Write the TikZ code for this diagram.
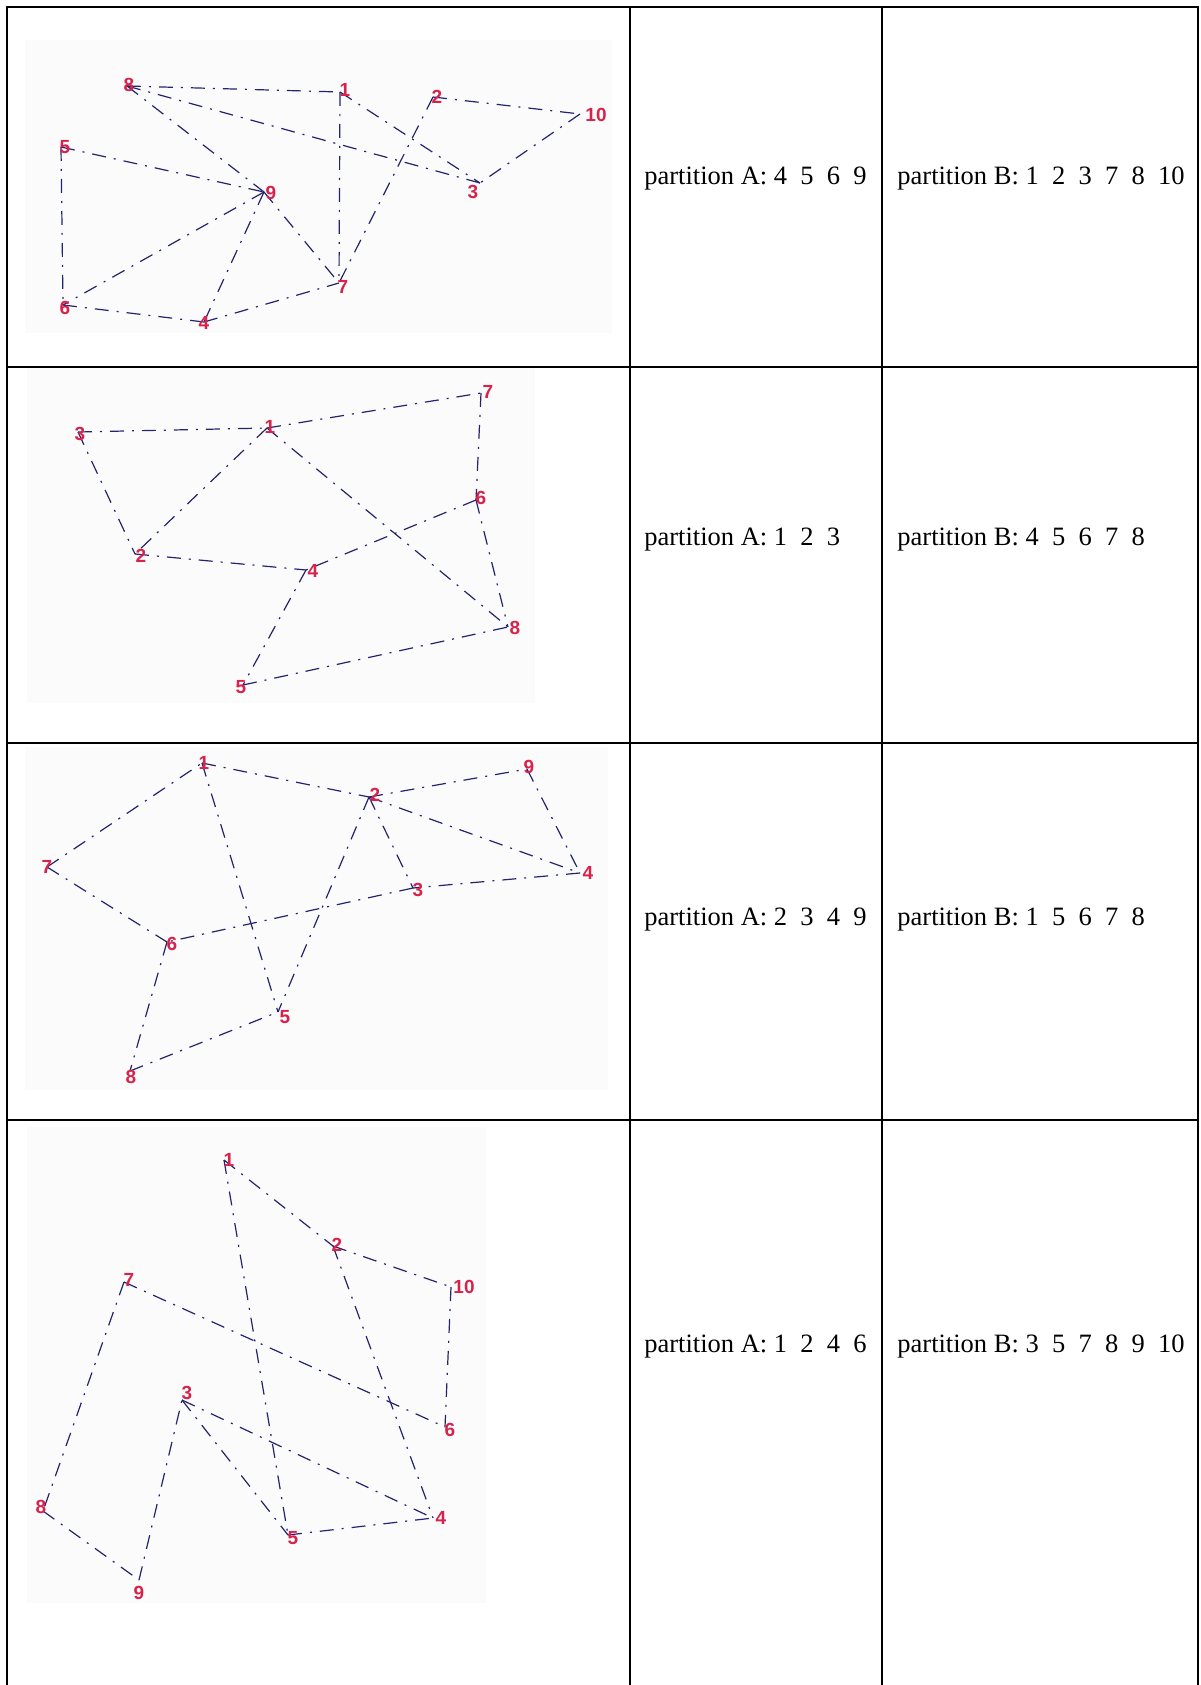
\documentclass[tikz,border=0pt]{standalone}
\usepackage{fontspec}
\setmainfont{Liberation Serif}
\newfontfamily\lblfont{Liberation Sans}
\definecolor{edgeblue}{RGB}{35,35,110}
\definecolor{vred}{RGB}{215,35,75}
\definecolor{imgbg}{RGB}{251,251,251}
\begin{document}
\begin{tikzpicture}[x=0.5pt,y=-0.5pt,
  grid/.style={line width=1pt,black},
  edge/.style={draw=edgeblue,line width=0.6pt,dash pattern=on 7pt off 4pt on 1pt off 4pt},
  vlabel/.style={font=\lblfont\bfseries\fontsize{9.5}{10}\selectfont,text=vred,inner sep=0pt},
  ptext/.style={font=\fontsize{13.25}{15}\selectfont,anchor=base west,inner sep=0pt},
  panelbg/.style={fill=imgbg,draw=none}]
\useasboundingbox (0,0) rectangle (1200,1685);
\fill[white] (0,0) rectangle (1200,1685);
% image backgrounds
\fill[panelbg] (25,40) rectangle (612,333);
\fill[panelbg] (25,747) rectangle (608,1090);
\fill[panelbg] (27,1127) rectangle (486,1603);
% table grid
\draw[grid] (7,1685) -- (7,7) -- (1198,7) -- (1198,1685);
\draw[grid] (630,7) -- (630,1685);
\draw[grid] (882,7) -- (882,1685);
\draw[grid] (7,367) -- (1198,367);
\draw[grid] (7,743) -- (1198,743);
\draw[grid] (7,1120) -- (1198,1120);
\fill[panelbg] (27,367.6) rectangle (535,703);
% texts
\node[ptext] (tA1) at (644,185) {partition A: 4\ \ 5\ \ 6\ \ 9};
\node[ptext] (tB1) at (897,185) {partition B: 1\ \ 2\ \ 3\ \ 7\ \ 8\ \ 10};
\node[ptext] (tA2) at (644,545) {partition A: 1\ \ 2\ \ 3};
\node[ptext] (tB2) at (897,545) {partition B: 4\ \ 5\ \ 6\ \ 7\ \ 8};
\node[ptext] (tA3) at (644,925) {partition A: 2\ \ 3\ \ 4\ \ 9};
\node[ptext] (tB3) at (897,925) {partition B: 1\ \ 5\ \ 6\ \ 7\ \ 8};
\node[ptext] (tA4) at (644,1352) {partition A: 1\ \ 2\ \ 4\ \ 6};
\node[ptext] (tB4) at (897,1352) {partition B: 3\ \ 5\ \ 7\ \ 8\ \ 9\ \ 10};
% ---------- panel 1 ----------
\coordinate (a8) at (127,86);
\coordinate (a1) at (340,92);
\coordinate (a2) at (433,97);
\coordinate (a10) at (580,114);
\coordinate (a5) at (61,147);
\coordinate (a9) at (264,192);
\coordinate (a3) at (480,183);
\coordinate (a7) at (339,283);
\coordinate (a6) at (63,305);
\coordinate (a4) at (204,322);
\foreach \u/\v in {8/1,8/3,8/9,1/7,1/3,2/10,2/7,10/3,5/9,5/6,9/6,9/4,9/7,6/4,4/7}
  \draw[edge] (a\u) -- (a\v);
\node[vlabel] (la8) at (129,85) {8};
\node[vlabel] (la1) at (345,90) {1};
\node[vlabel] (la2) at (437,97) {2};
\node[vlabel] (la10) at (596,115) {10};
\node[vlabel] (la5) at (65,147) {5};
\node[vlabel] (la9) at (271,193) {9};
\node[vlabel] (la3) at (473,192) {3};
\node[vlabel] (la7) at (343,287) {7};
\node[vlabel] (la6) at (65,308) {6};
\node[vlabel] (la4) at (204,323) {4};
% ---------- panel 2 ----------
\coordinate (b3) at (78,432);
\coordinate (b1) at (267,428);
\coordinate (b7) at (481,393);
\coordinate (b6) at (476,500);
\coordinate (b2) at (135,554);
\coordinate (b4) at (306,570);
\coordinate (b8) at (508,627);
\coordinate (b5) at (243,685);
\foreach \u/\v in {3/1,1/7,3/2,1/2,1/8,7/6,6/4,6/8,2/4,4/5,5/8}
  \draw[edge] (b\u) -- (b\v);
\node[vlabel] (lb3) at (80,434) {3};
\node[vlabel] (lb1) at (270,427) {1};
\node[vlabel] (lb7) at (488,392) {7};
\node[vlabel] (lb6) at (481,498) {6};
\node[vlabel] (lb2) at (141,556) {2};
\node[vlabel] (lb4) at (313,571) {4};
\node[vlabel] (lb8) at (515,628) {8};
\node[vlabel] (lb5) at (241,687) {5};
% ---------- panel 3 ----------
\coordinate (c1) at (202,763);
\coordinate (c2) at (369,797);
\coordinate (c9) at (527,769);
\coordinate (c7) at (47,867);
\coordinate (c4) at (580,873);
\coordinate (c3) at (413,888);
\coordinate (c6) at (167,942);
\coordinate (c5) at (278,1012);
\coordinate (c8) at (130,1071);
\foreach \u/\v in {7/1,1/2,1/5,2/9,2/4,2/3,2/5,9/4,4/3,3/6,7/6,6/8,8/5}
  \draw[edge] (c\u) -- (c\v);
\node[vlabel] (lc1) at (204,763) {1};
\node[vlabel] (lc2) at (375,795) {2};
\node[vlabel] (lc9) at (529,767) {9};
\node[vlabel] (lc7) at (47,867) {7};
\node[vlabel] (lc4) at (588,873) {4};
\node[vlabel] (lc3) at (418,890) {3};
\node[vlabel] (lc6) at (172,944) {6};
\node[vlabel] (lc5) at (285,1017) {5};
\node[vlabel] (lc8) at (131,1077) {8};
% ---------- panel 4 ----------
\coordinate (d1) at (224,1160);
\coordinate (d2) at (333,1246);
\coordinate (d10) at (451,1287);
\coordinate (d7) at (124,1282);
\coordinate (d3) at (182,1400);
\coordinate (d6) at (445,1427);
\coordinate (d8) at (43,1511);
\coordinate (d4) at (433,1518);
\coordinate (d5) at (288,1535);
\coordinate (d9) at (139,1580);
\foreach \u/\v in {1/2,1/5,2/10,2/4,10/6,7/6,7/8,8/9,9/3,3/4,3/5,5/4}
  \draw[edge] (d\u) -- (d\v);
\node[vlabel] (ld1) at (229,1160) {1};
\node[vlabel] (ld2) at (337,1245) {2};
\node[vlabel] (ld10) at (464,1287) {10};
\node[vlabel] (ld7) at (129,1280) {7};
\node[vlabel] (ld3) at (187,1393) {3};
\node[vlabel] (ld6) at (450,1430) {6};
\node[vlabel] (ld8) at (41,1507) {8};
\node[vlabel] (ld4) at (441,1518) {4};
\node[vlabel] (ld5) at (293,1538) {5};
\node[vlabel] (ld9) at (139,1593) {9};
\end{tikzpicture}
\end{document}
